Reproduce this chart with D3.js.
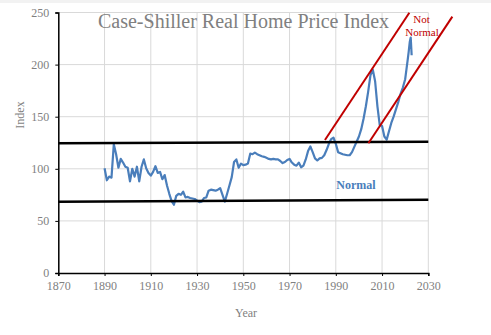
<!DOCTYPE html>
<html><head><meta charset="utf-8">
<script src="https://cdn.jsdelivr.net/npm/d3@7"></script>
<style>
html,body{margin:0;padding:0;background:#fff;}
svg{display:block;font-family:"Liberation Serif","Times New Roman",serif;}
</style></head>
<body>
<svg id="c" width="491" height="335"></svg>
<script>
const years = [1890,1891,1892,1893,1894,1895,1896,1897,1898,1899,
1900,1901,1902,1903,1904,1905,1906,1907,1908,1909,
1910,1911,1912,1913,1914,1915,1916,1917,1918,1919,
1920,1921,1922,1923,1924,1925,1926,1927,1928,1929,
1930,1931,1932,1933,1934,1935,1936,1937,1938,1939,
1940,1941,1942,1943,1944,1945,1946,1947,1948,1949,
1950,1951,1952,1953,1954,1955,1956,1957,1958,1959,
1960,1961,1962,1963,1964,1965,1966,1967,1968,1969,
1970,1971,1972,1973,1974,1975,1976,1977,1978,1979,
1980,1981,1982,1983,1984,1985,1986,1987,1988,1989,
1990,1991,1992,1993,1994,1995,1996,1997,1998,1999,
2000,2001,2002,2003,2004,2005,2006,2007,2008,2009,
2010,2011,2012,2013,2014,2015,2016,2017,2018,2019,
2020,2021,2021.5,2022,2022.4,2022.8];
const index = [100.5,89,92.5,91.5,123.5,114,101,109.5,106,102,
101,88,100,92.5,102,88,102,109,100.5,96,
93.5,97,102.5,96,97,90,94,84,76,69,
65.5,74,76,75,78,72.5,73,72,71.5,71,
69.5,68,68.5,72,72.5,79,80,79.5,79,80,
81.5,75,68.5,76,84,92,106.5,109,101,105,
103.5,104,105,114.5,114,115.5,114,113,112,111.5,
110.5,109.5,109,109.5,109,109,107.5,105.5,106.5,108.5,
109.5,106,104,103,106,101.5,103,109,117,121.5,
116,110,108,110,110.5,113,118,124,128.5,130,
124,116,115,114,113.5,113,113,116,121,126,
131,138,148,160,174,190,195,184,160,142,
141,131,128,136,144,150,157,164,172,178,
186,203,212,222,226,209];

const xTicks = [1870,1890,1910,1930,1950,1970,1990,2010,2030];
const yTicks = [0,50,100,150,200,250];

// annotation lines (year, index)
const normalLines = [
  {x1:1870, y1:124.5, x2:2030, y2:126},
  {x1:1870, y1:68.4,  x2:2030, y2:70.3}
];
const notNormalLines = [
  {x1:1985.3, y1:127.6, x2:2021.8, y2:249.8},
  {x1:2004.1, y1:124.5, x2:2040.4, y2:246}
];

const svg = d3.select("#c");
const W=491,H=335;
const pL=58.3,pR=428.3,pT=12.5,pB=273;
const x = d3.scaleLinear().domain([1870,2030]).range([pL,pR]);
const y = d3.scaleLinear().domain([0,250]).range([pB,pT]);

svg.append("rect").attr("x",0).attr("y",0).attr("width",W).attr("height",3).attr("fill","#f2f2f2");

// grid
svg.append("g").selectAll("line").data(xTicks.slice(1)).join("line")
  .attr("x1",d=>x(d)).attr("x2",d=>x(d)).attr("y1",pT).attr("y2",pB)
  .attr("stroke","#d9d9d9").attr("stroke-width",1);
svg.append("g").selectAll("line").data(yTicks.slice(1)).join("line")
  .attr("x1",pL).attr("x2",pR).attr("y1",d=>y(d)).attr("y2",d=>y(d))
  .attr("stroke","#d9d9d9").attr("stroke-width",1);

// axes
const xa = svg.append("g").attr("transform",`translate(0,${pB})`)
  .call(d3.axisBottom(x).tickValues(xTicks).tickFormat(d3.format("d")).tickSize(3).tickPadding(5));
const ya = svg.append("g").attr("transform",`translate(${pL},0)`)
  .call(d3.axisLeft(y).tickValues(yTicks).tickSize(3).tickPadding(6));
[xa,ya].forEach(a=>{
  a.select(".domain").attr("stroke","#000").attr("stroke-width",1.5);
  a.selectAll(".tick line").attr("stroke","#000").attr("stroke-width",1);
  a.selectAll("text").attr("fill","#7f7f7f").style("font-family","'Liberation Serif',serif").style("font-size","12px");
});

// data line
const data = years.map((yr,i)=>({yr, v:index[i]}));
svg.append("path").datum(data)
  .attr("fill","none").attr("stroke","#4a7ebb").attr("stroke-width",2.2)
  .attr("stroke-linejoin","round")
  .attr("d", d3.line().x(d=>x(d.yr)).y(d=>y(d.v)));

// normal band lines
svg.append("g").selectAll("line").data(normalLines).join("line")
  .attr("x1",d=>x(d.x1)).attr("y1",d=>y(d.y1)).attr("x2",d=>x(d.x2)).attr("y2",d=>y(d.y2))
  .attr("stroke","#000").attr("stroke-width",2.5);
svg.append("g").selectAll("line").data(notNormalLines).join("line")
  .attr("x1",d=>x(d.x1)).attr("y1",d=>y(d.y1)).attr("x2",d=>x(d.x2)).attr("y2",d=>y(d.y2))
  .attr("stroke","#c00000").attr("stroke-width",2);

// texts
svg.append("text").attr("x",243.5).attr("y",27.5).attr("text-anchor","middle")
  .attr("fill","#808080").style("font-size","20px").text("Case-Shiller Real Home Price Index");
svg.append("text").attr("x",246).attr("y",317).attr("text-anchor","middle")
  .attr("fill","#7f7f7f").style("font-size","12px").text("Year");
svg.append("text").attr("transform","translate(24,115) rotate(-90)").attr("text-anchor","middle")
  .attr("fill","#7f7f7f").style("font-size","12px").text("Index");
svg.append("text").attr("x",356).attr("y",189).attr("text-anchor","middle")
  .attr("fill","#4a7ebb").style("font-size","12px").style("font-weight","bold").text("Normal");
svg.append("text").attr("x",421.5).attr("y",22.5).attr("text-anchor","middle")
  .attr("fill","#c00000").style("font-size","11px").text("Not");
svg.append("text").attr("x",422).attr("y",35.5).attr("text-anchor","middle")
  .attr("fill","#c00000").style("font-size","11px").text("Normal");
</script>
</body></html>
